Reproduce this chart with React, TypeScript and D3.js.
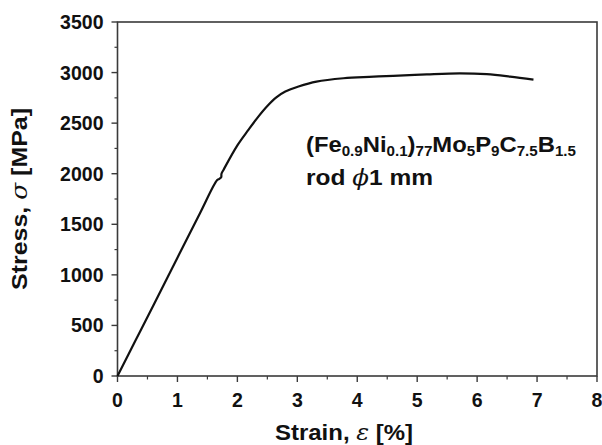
import React from "react";
import * as d3 from "d3";

const strain = [0, 0.3, 0.6, 1.0, 1.376, 1.66, 1.70, 1.73, 1.735, 1.77, 2.0, 2.18, 2.35, 2.5, 2.65, 2.8, 3.02, 3.32, 3.77, 4.2, 4.6, 5.16, 5.71, 6.16, 6.55, 6.94];
const stress = [0, 350, 700, 1170, 1609, 1935, 1950, 1965, 2000, 2040, 2280, 2430, 2565, 2670, 2755, 2812, 2862, 2911, 2944, 2958, 2967, 2982, 2992, 2984, 2960, 2930];
const xTicks = [0, 1, 2, 3, 4, 5, 6, 7, 8];
const yTicks = [0, 500, 1000, 1500, 2000, 2500, 3000, 3500];

const W = 602, H = 445;
const L = 117.5, R = 597, T = 22, B = 376;

export default function App() {
  const x = d3.scaleLinear().domain([0, 8]).range([L, R]);
  const y = d3.scaleLinear().domain([0, 3500]).range([B, T]);
  const pts = strain.map((s, i) => [s, stress[i]] as [number, number]);
  const line = d3.line<[number, number]>().x(d => x(d[0])).y(d => y(d[1])).curve(d3.curveCatmullRom.alpha(0.5));
  const xMinor = d3.range(0.5, 8, 1);
  const yMinor = d3.range(250, 3500, 500);
  const axisColor = "#3a3a3a";
  const font = "'Liberation Sans', Arial, sans-serif";
  const sub = 14;
  return (
    <svg width={W} height={H} style={{ position: "absolute", left: 0, top: 0, background: "#fff" }} fontFamily={font}>
      <rect x={0} y={0} width={W} height={H} fill="#fff" />
      <rect x={L} y={T} width={R - L} height={B - T} fill="none" stroke={axisColor} strokeWidth={1.6} />
      {yTicks.map(t => (
        <g key={"y" + t}>
          <line x1={L - 6} x2={L} y1={y(t)} y2={y(t)} stroke={axisColor} strokeWidth={1.4} />
          <text x={103.5} y={y(t)} dy="0.36em" textAnchor="end" fontSize={19.5} fontWeight="bold" fill="#111">{t}</text>
        </g>
      ))}
      {yMinor.map(t => (
        <line key={"ym" + t} x1={L - 3} x2={L} y1={y(t)} y2={y(t)} stroke={axisColor} strokeWidth={1.2} />
      ))}
      {xTicks.map(t => (
        <g key={"x" + t}>
          <line x1={x(t)} x2={x(t)} y1={B} y2={B + 6} stroke={axisColor} strokeWidth={1.4} />
          <text x={x(t)} y={407} textAnchor="middle" fontSize={19.5} fontWeight="bold" fill="#111">{t}</text>
        </g>
      ))}
      {xMinor.map(t => (
        <line key={"xm" + t} x1={x(t)} x2={x(t)} y1={B} y2={B + 3.5} stroke={axisColor} strokeWidth={1.2} />
      ))}
      <path d={line(pts) || ""} fill="none" stroke="#111" strokeWidth={2.2} strokeLinejoin="round" />
      <text x={344} y={440} textAnchor="middle" fontSize={22} fontWeight="bold" fill="#111" textLength={138} lengthAdjust="spacingAndGlyphs">
        Strain, <tspan fontStyle="italic" fontFamily="'DejaVu Serif', serif" fontWeight="normal">ε</tspan> [%]
      </text>
      <text transform="translate(27,199) rotate(-90)" textAnchor="middle" fontSize={22} fontWeight="bold" fill="#111" textLength={182} lengthAdjust="spacingAndGlyphs">
        Stress, <tspan fontStyle="italic" fontFamily="'DejaVu Serif', serif" fontWeight="normal">σ</tspan> [MPa]
      </text>
      <text x={306} y={152} fontSize={22} fontWeight="bold" fill="#111" textLength={270} lengthAdjust="spacingAndGlyphs">
        (Fe<tspan fontSize={sub} dy={4}>0.9</tspan><tspan dy={-4}>Ni</tspan><tspan fontSize={sub} dy={4}>0.1</tspan><tspan dy={-4}>)</tspan><tspan fontSize={sub} dy={4}>77</tspan><tspan dy={-4}>Mo</tspan><tspan fontSize={sub} dy={4}>5</tspan><tspan dy={-4}>P</tspan><tspan fontSize={sub} dy={4}>9</tspan><tspan dy={-4}>C</tspan><tspan fontSize={sub} dy={4}>7.5</tspan><tspan dy={-4}>B</tspan><tspan fontSize={sub} dy={4}>1.5</tspan>
      </text>
      <text x={306} y={185} fontSize={22} fontWeight="bold" fill="#111" textLength={127} lengthAdjust="spacingAndGlyphs">
        rod <tspan fontStyle="italic" fontFamily="'DejaVu Serif', serif" fontWeight="normal">ϕ</tspan>1 mm
      </text>
    </svg>
  );
}
